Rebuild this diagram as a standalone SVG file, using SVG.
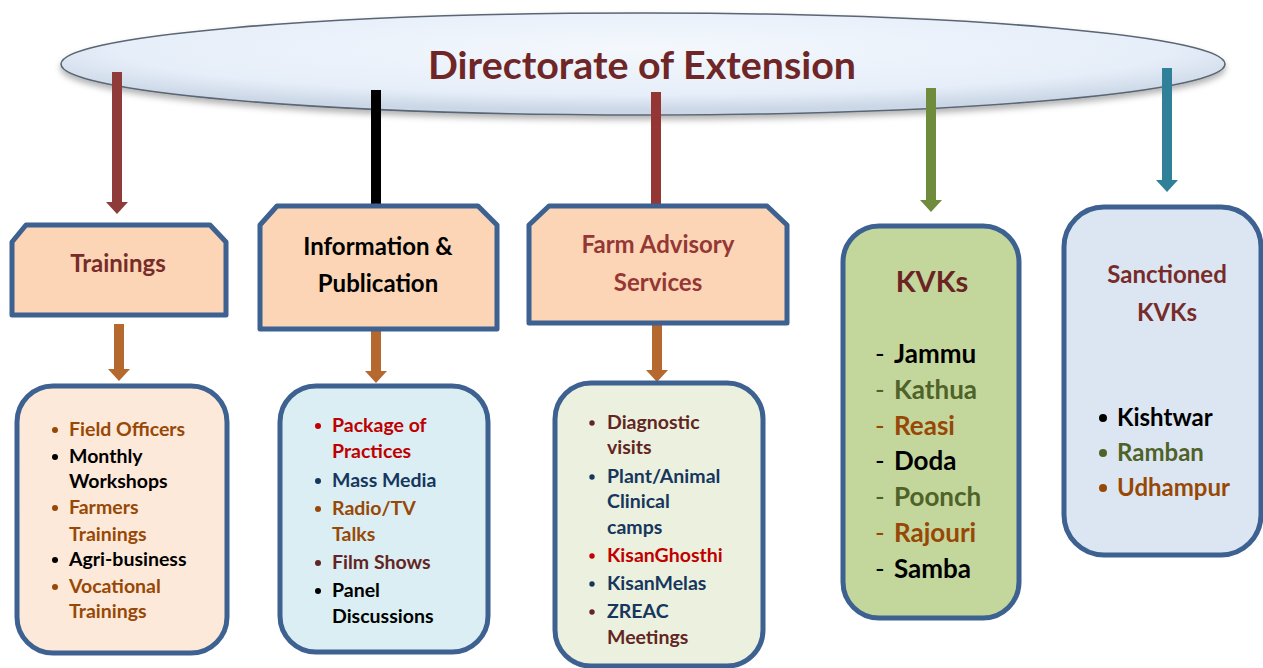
<svg xmlns="http://www.w3.org/2000/svg" width="1263" height="668" viewBox="0 0 1263 668">
<style>
text{font-family:Lato,"Open Sans","Liberation Sans",sans-serif;font-weight:700}
.box{stroke:#3D6190;stroke-width:5;stroke-linejoin:round}
.hd{fill:#FBD5B5}
.t24{font-size:24px;text-anchor:middle}
.li{font-size:19.5px}
.kv{font-size:26px}
.dash{font-weight:400}
.sk{font-size:24px}
.br{fill:#984806}.bk{fill:#000}.nv{fill:#17365D}.rd{fill:#C00000}.mr{fill:#632523}.gr{fill:#4F6228}
.sh{stroke-width:10;fill:none}
</style>
<defs>
<radialGradient id="eg" cx="0.5" cy="0.35" r="0.6">
<stop offset="0" stop-color="#F4F8FD"/>
<stop offset="0.75" stop-color="#E6EEF9"/>
<stop offset="1" stop-color="#CBD7E6"/>
</radialGradient>
<filter id="ds" x="-5%" y="-20%" width="110%" height="150%">
<feDropShadow dx="0" dy="4" stdDeviation="3" flood-color="#000" flood-opacity="0.3"/>
</filter>
<marker id="mR" markerUnits="userSpaceOnUse" viewBox="0 -11 12 22" markerWidth="12" markerHeight="22" refX="0" refY="0" orient="auto"><path d="M0,-11L12,0L0,11z" fill="#8E3B3A"/></marker>
<marker id="mG" markerUnits="userSpaceOnUse" viewBox="0 -11 12 22" markerWidth="12" markerHeight="22" refX="0" refY="0" orient="auto"><path d="M0,-11L12,0L0,11z" fill="#6F8B3C"/></marker>
<marker id="mT" markerUnits="userSpaceOnUse" viewBox="0 -11 12 22" markerWidth="12" markerHeight="22" refX="0" refY="0" orient="auto"><path d="M0,-11L12,0L0,11z" fill="#31809A"/></marker>
<marker id="mO" markerUnits="userSpaceOnUse" viewBox="0 -11 12 22" markerWidth="12" markerHeight="22" refX="0" refY="0" orient="auto"><path d="M0,-11L12,0L0,11z" fill="#B5692F"/></marker>
</defs>

<g id="directorate">
<ellipse cx="643" cy="64" rx="582" ry="51" fill="url(#eg)" stroke="#5A6673" stroke-width="1.6" filter="url(#ds)"/>
<text x="642" y="79" font-size="38" text-anchor="middle" fill="#6F2626" textLength="428" lengthAdjust="spacingAndGlyphs">Directorate of Extension</text>
</g>

<g id="connectors">
<line class="sh" x1="117" y1="72" x2="117" y2="202" stroke="#8E3B3A" marker-end="url(#mR)"/>
<line class="sh" x1="376" y1="90" x2="376" y2="206" stroke="#000"/>
<line class="sh" x1="656" y1="92" x2="656" y2="206" stroke="#943634"/>
<line class="sh" x1="931" y1="88" x2="931" y2="200" stroke="#6F8B3C" marker-end="url(#mG)"/>
<line class="sh" x1="1167" y1="68" x2="1167" y2="180" stroke="#31809A" marker-end="url(#mT)"/>
<line class="sh" x1="119" y1="324" x2="119" y2="369" stroke="#B5692F" marker-end="url(#mO)"/>
<line class="sh" x1="376" y1="329" x2="376" y2="371" stroke="#B5692F" marker-end="url(#mO)"/>
<line class="sh" x1="657" y1="325" x2="657" y2="370" stroke="#B5692F" marker-end="url(#mO)"/>
</g>

<g id="trainings">
<polygon class="box hd" points="26,225 210,225 226,242 226,315 12,315 12,242"/>
<text class="t24" x="118" y="272" fill="#772C2A">Trainings</text>
</g>

<g id="information">
<polygon class="box hd" points="277,206 478,206 497,225 497,329 260,329 260,225"/>
<text class="t24" x="378" y="255" fill="#000">Information &amp;</text>
<text class="t24" x="378" y="292" fill="#000">Publication</text>
</g>

<g id="farm-advisory">
<polygon class="box hd" points="549,206 767,206 787,225 787,323 529,323 529,225"/>
<text class="t24" x="658" y="253" fill="#953735">Farm Advisory</text>
<text class="t24" x="658" y="291" fill="#953735">Services</text>
</g>

<g id="trainings-list">
<rect class="box" x="17" y="386" width="210" height="267" rx="36" fill="#FDE9D9"/>
<circle class="br" cx="55" cy="430" r="3"/>
<circle class="bk" cx="55" cy="457" r="3"/>
<circle class="br" cx="55" cy="508" r="3"/>
<circle class="bk" cx="55" cy="560" r="3"/>
<circle class="br" cx="55" cy="587" r="3"/>
<text class="li br" x="69" y="436">Field Officers</text>
<text class="li bk" x="69" y="463">Monthly</text>
<text class="li bk" x="69" y="488">Workshops</text>
<text class="li br" x="69" y="514">Farmers</text>
<text class="li br" x="69" y="541">Trainings</text>
<text class="li bk" x="69" y="566">Agri-business</text>
<text class="li br" x="69" y="593">Vocational</text>
<text class="li br" x="69" y="618">Trainings</text>
</g>

<g id="information-list">
<rect class="box" x="280" y="386" width="208" height="266" rx="36" fill="#DAEEF3"/>
<circle class="rd" cx="318" cy="426" r="3"/>
<circle class="nv" cx="318" cy="481" r="3"/>
<circle class="br" cx="318" cy="509" r="3"/>
<circle class="mr" cx="318" cy="563" r="3"/>
<circle class="bk" cx="318" cy="591" r="3"/>
<text class="li rd" x="332" y="432">Package of</text>
<text class="li rd" x="332" y="458">Practices</text>
<text class="li nv" x="332" y="487">Mass Media</text>
<text class="li br" x="332" y="515">Radio/TV</text>
<text class="li br" x="332" y="541">Talks</text>
<text class="li mr" x="332" y="569">Film Shows</text>
<text class="li bk" x="332" y="597">Panel</text>
<text class="li bk" x="332" y="623">Discussions</text>
</g>

<g id="farm-list">
<rect class="box" x="555" y="383" width="208" height="283" rx="36" fill="#EBF1DE"/>
<circle class="mr" cx="592" cy="423" r="2.7"/>
<circle class="nv" cx="592" cy="477" r="2.7"/>
<circle class="rd" cx="592" cy="556" r="2.7"/>
<circle class="nv" cx="592" cy="584" r="2.7"/>
<circle class="mr" cx="592" cy="612" r="2.7"/>
<text class="li mr" x="607" y="429">Diagnostic</text>
<text class="li mr" x="607" y="454">visits</text>
<text class="li nv" x="607" y="483">Plant/Animal</text>
<text class="li nv" x="607" y="508">Clinical</text>
<text class="li nv" x="607" y="534">camps</text>
<text class="li rd" x="607" y="562">KisanGhosthi</text>
<text class="li nv" x="607" y="590">KisanMelas</text>
<text class="li nv" x="607" y="618">ZREAC</text>
<text class="li mr" x="607" y="644">Meetings</text>
</g>

<g id="kvks">
<rect class="box" x="843" y="226" width="176" height="392" rx="36" fill="#C3D69B"/>
<text x="932" y="292" font-size="29" text-anchor="middle" fill="#6B2424">KVKs</text>
<text class="kv dash bk" x="875" y="363">-</text><text class="kv bk" x="894" y="363">Jammu</text>
<text class="kv dash gr" x="875" y="399">-</text><text class="kv gr" x="894" y="399">Kathua</text>
<text class="kv dash br" x="875" y="435">-</text><text class="kv br" x="894" y="435">Reasi</text>
<text class="kv dash bk" x="875" y="470">-</text><text class="kv bk" x="894" y="470">Doda</text>
<text class="kv dash gr" x="875" y="506">-</text><text class="kv gr" x="894" y="506">Poonch</text>
<text class="kv dash br" x="875" y="542">-</text><text class="kv br" x="894" y="542">Rajouri</text>
<text class="kv dash bk" x="875" y="578">-</text><text class="kv bk" x="894" y="578">Samba</text>
</g>

<g id="sanctioned-kvks">
<rect class="box" x="1064" y="207" width="197" height="348" rx="40" fill="#DCE6F2"/>
<text class="t24" x="1167" y="283" fill="#772C2A">Sanctioned</text>
<text class="t24" x="1167" y="321" fill="#772C2A">KVKs</text>
<circle class="bk" cx="1103" cy="418" r="4"/>
<circle class="gr" cx="1103" cy="453" r="4"/>
<circle class="br" cx="1103" cy="488" r="4"/>
<text class="sk bk" x="1117" y="426">Kishtwar</text>
<text class="sk gr" x="1117" y="461">Ramban</text>
<text class="sk br" x="1117" y="496">Udhampur</text>
</g>
</svg>
